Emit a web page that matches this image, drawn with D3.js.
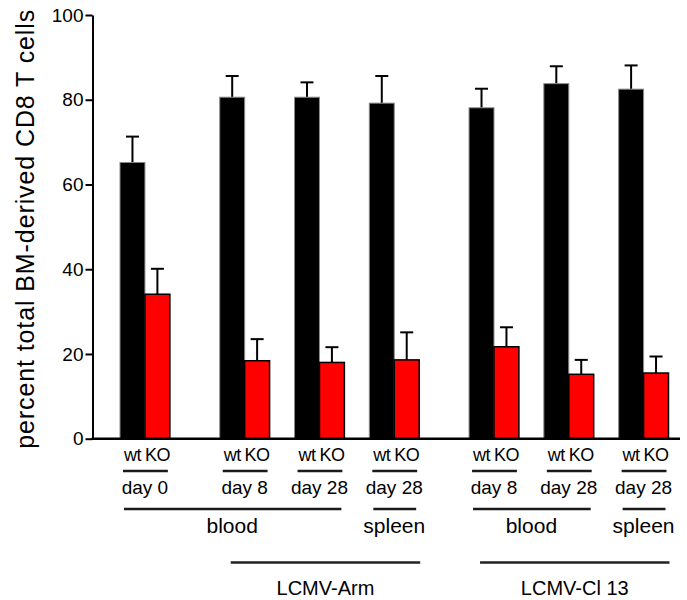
<!DOCTYPE html>
<html>
<head>
<meta charset="utf-8">
<script src="https://cdn.jsdelivr.net/npm/d3@7"></script>
<style>
	body { margin: 0; background: #fff; }
	text { font-family: "Liberation Sans", Arial, sans-serif; fill: #000; }
</style>
</head>
<body>
<script>
// values
var genotypes = ["wt", "KO"];
var days = ["day 0", "day 8", "day 28", "day 28", "day 8", "day 28", "day 28"];
var tissues = ["blood", "blood", "blood", "spleen", "blood", "blood", "spleen"];
var infections = ["", "LCMV-Arm", "LCMV-Arm", "LCMV-Arm", "LCMV-Cl 13", "LCMV-Cl 13", "LCMV-Cl 13"];
var wtMean = [65.2, 80.6, 80.6, 79.2, 78.1, 83.8, 82.5];
var wtErr = [6.1, 5.0, 3.5, 6.4, 4.5, 4.1, 5.6];
var koMean = [34.1, 18.4, 18.0, 18.6, 21.7, 15.2, 15.5];
var koErr = [6.0, 5.1, 3.6, 6.5, 4.6, 3.4, 3.9];
var yTicks = [0, 20, 40, 60, 80, 100];
var yTitle = "percent total BM-derived CD8 T cells";

var W = 687, H = 600;

var svg = d3.select("body").append("svg")
	.attr("width", W)
	.attr("height", H);

// slot layout: each group takes 2 slots, 1 empty slot between groups,
// 2 empty slots when the infection changes
var slots = [];
var s = 0;
days.forEach(function(d, i){
	if (i > 0) s += (infections[i] == infections[i-1]) ? 3 : 4;
	slots.push(s);
});
var nSlots = s + 2;

var x = d3.scaleBand()
	.domain(d3.range(nSlots))
	.range([120, 668.5])
	.padding(0);

var y = d3.scaleLinear()
	.domain([0, 100])
	.range([438.7, 15]);

var groups = days.map(function(d, i){
	return {
		i: i, slot: slots[i], day: d, tissue: tissues[i], infection: infections[i],
		bars: [
			{g: genotypes[0], mean: wtMean[i], err: wtErr[i], slot: slots[i]},
			{g: genotypes[1], mean: koMean[i], err: koErr[i], slot: slots[i] + 1}
		]
	};
});
var allBars = [];
groups.forEach(function(g){ allBars = allBars.concat(g.bars); });

function gStart(g){ return x(g.slot); }
function gEnd(g){ return x(g.slot + 1) + x.bandwidth(); }

//error bars (drawn first so bar top covers the stem)
var eb = svg.append("g").attr("class", "errbars")
	.selectAll("g").data(allBars).enter().append("g");
eb.append("line")
	.attr("x1", function(d){ return x(d.slot) + x.bandwidth()/2; })
	.attr("x2", function(d){ return x(d.slot) + x.bandwidth()/2; })
	.attr("y1", function(d){ return y(d.mean); })
	.attr("y2", function(d){ return y(d.mean + d.err); })
	.style("stroke", "#000").style("stroke-width", 2);
eb.append("line")
	.attr("x1", function(d){ return x(d.slot) + x.bandwidth()/2 - 6.5; })
	.attr("x2", function(d){ return x(d.slot) + x.bandwidth()/2 + 6.5; })
	.attr("y1", function(d){ return y(d.mean + d.err); })
	.attr("y2", function(d){ return y(d.mean + d.err); })
	.style("stroke", "#000").style("stroke-width", 2);

//bars
svg.append("g").attr("class", "bars")
	.selectAll("rect").data(allBars).enter().append("rect")
		.attr("x", function(d){ return x(d.slot); })
		.attr("width", x.bandwidth())
		.attr("y", function(d){ return y(d.mean); })
		.attr("height", function(d){ return y(0) - y(d.mean); })
		.style("fill", function(d){ return d.g == "wt" ? "#000" : "#ff0000"; })
		.style("stroke", function(d){ return d.g == "wt" ? "#8a8a8a" : "#000"; })
		.style("stroke-width", function(d){ return d.g == "wt" ? 1 : 1.5; });

//y axis
var yAxis = svg.append("g")
	.attr("transform", "translate(92.5,0)")
	.call(d3.axisLeft(y).tickValues(yTicks).tickSize(7).tickSizeOuter(0).tickPadding(2));
yAxis.select(".domain").style("stroke", "#000").style("stroke-width", 2);
yAxis.selectAll(".tick line").style("stroke", "#000").style("stroke-width", 2);
yAxis.selectAll(".tick text")
	.style("font-size", "19px")
	.style("font-family", '"Liberation Sans", Arial, sans-serif')
	.attr("fill", "#000");

//x axis line
svg.append("line")
	.attr("x1", 91.5).attr("x2", 680)
	.attr("y1", y(0)).attr("y2", y(0))
	.style("stroke", "#000").style("stroke-width", 2.5);

//y title
svg.append("text")
	.attr("transform", "translate(34," + ((y(0) + y(100))/2 + 2) + ")rotate(-90)")
	.attr("text-anchor", "middle")
	.style("font-size", "25px")
	.style("letter-spacing", "0.9px")
	.text(yTitle);

//genotype labels
svg.append("g").selectAll("text").data(allBars).enter().append("text")
	.attr("x", function(d){ return x(d.slot) + x.bandwidth()/2; })
	.attr("y", 461)
	.attr("text-anchor", "middle")
	.style("font-size", "18px")
	.style("letter-spacing", "-0.5px")
	.text(function(d){ return d.g; });

//underline and day labels
var lineColor = "#1a1a1a";
svg.append("g").selectAll("line").data(groups).enter().append("line")
	.attr("x1", function(d){ return gStart(d) + 3; })
	.attr("x2", function(d){ return gEnd(d) - 2; })
	.attr("y1", 471).attr("y2", 471)
	.style("stroke", lineColor).style("stroke-width", 2.5);
svg.append("g").selectAll("text").data(groups).enter().append("text")
	.attr("x", function(d){ return (gStart(d) + gEnd(d))/2; })
	.attr("y", 493.5)
	.attr("text-anchor", "middle")
	.style("font-size", "19px")
	.text(function(d){ return d.day; });

// contiguous runs of a label
function runs(labels){
	var out = [];
	labels.forEach(function(l, i){
		var last = out[out.length - 1];
		if (last && last.label == l) last.end = i;
		else out.push({label: l, start: i, end: i});
	});
	return out.filter(function(r){ return r.label != ""; });
}

//tissue brackets
var tRuns = runs(tissues);
svg.append("g").selectAll("line").data(tRuns).enter().append("line")
	.attr("x1", function(d){ return gStart(groups[d.start]) + 4; })
	.attr("x2", function(d){ return gEnd(groups[d.end]) - 3; })
	.attr("y1", 509).attr("y2", 509)
	.style("stroke", lineColor).style("stroke-width", 2.5);
svg.append("g").selectAll("text").data(tRuns).enter().append("text")
	.attr("x", function(d){ return (gStart(groups[d.start]) + gEnd(groups[d.end]))/2; })
	.attr("y", 532.5)
	.attr("text-anchor", "middle")
	.style("font-size", "21px")
	.text(function(d){ return d.label; });

//infection brackets
var iRuns = runs(infections);
svg.append("g").selectAll("line").data(iRuns).enter().append("line")
	.attr("x1", function(d){ return gStart(groups[d.start]) + 11; })
	.attr("x2", function(d){ return gEnd(groups[d.end]) + 1; })
	.attr("y1", 562.5).attr("y2", 562.5)
	.style("stroke", "#222").style("stroke-width", 2.5);
svg.append("g").selectAll("text").data(iRuns).enter().append("text")
	.attr("x", function(d){ return (gStart(groups[d.start]) + 11 + gEnd(groups[d.end]) + 1)/2; })
	.attr("y", 595)
	.attr("text-anchor", "middle")
	.style("font-size", "20px")
	.text(function(d){ return d.label; });
</script>
</body>
</html>
